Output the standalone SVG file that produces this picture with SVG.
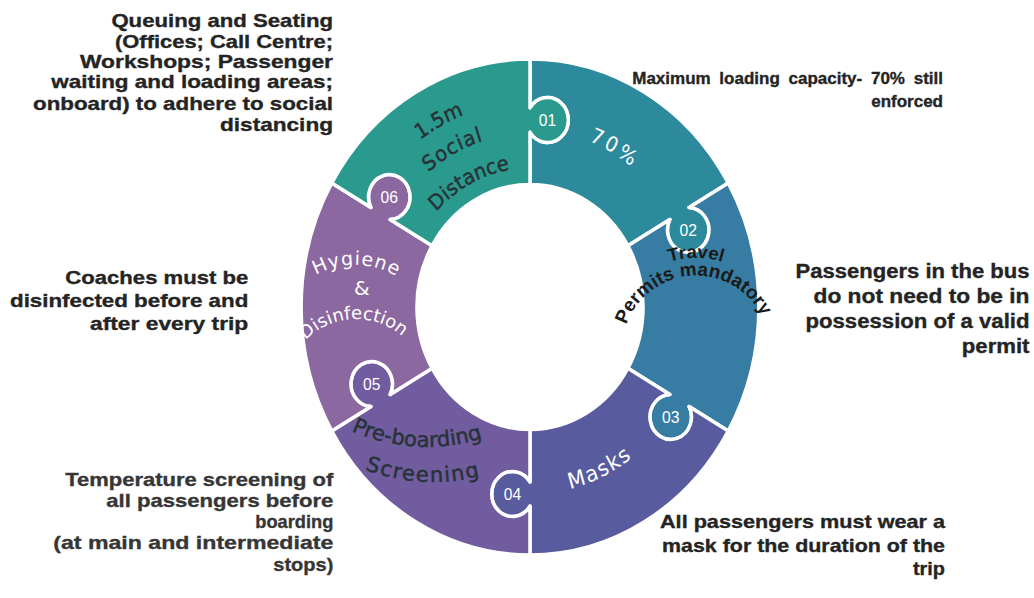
<svg xmlns="http://www.w3.org/2000/svg" width="1034" height="598" viewBox="0 0 1034 598">
  <style>
    .seg { stroke: #ffffff; stroke-width: 3.5; stroke-linejoin: round; }
    .num { font-family: "Liberation Sans", Arial, sans-serif; font-size: 17px; fill: #ffffff; text-anchor: middle; }
    .lw { font-family: "DejaVu Sans", Verdana, sans-serif; fill: #ffffff; }
    .ld { font-family: "DejaVu Sans", Verdana, sans-serif; fill: #263236; stroke: #263236; stroke-width: 0.45; }
    .lb { font-family: "Liberation Sans", Arial, sans-serif; font-weight: bold; fill: #1a1a1a; }
    .note { font-family: "Liberation Sans", Arial, sans-serif; font-weight: bold; fill: #242424; text-anchor: end; stroke: #242424; stroke-width: 0.35; }
  </style>
  <defs>
    <!-- ring-local arcs (used inside the scaled ring group) -->
    <path id="arc-sd1" d="M -200.5,-42.6 A 205 205 0 0 1 76.8,-190.1"/>
    <path id="arc-sd2" d="M -170.2,-36.2 A 174 174 0 0 1 65.2,-161.3"/>
    <path id="arc-sd3" d="M -136.0,-28.9 A 139 139 0 0 1 52.1,-128.9"/>
    <path id="arc-70" d="M -60.9,-167.3 A 178 178 0 0 1 175.3,-30.9"/>
    <path id="arc-mask" d="M -79.0,169.5 A 187 187 0 0 0 180.6,48.4"/>
    <!-- page-space arcs -->
    <path id="arc-pre" d="M 260.9,344.6 A 186 186 0 0 0 582.4,363.1"/>
    <path id="arc-scr" d="M 261.8,376.9 A 192 192 0 0 0 593.8,394.9"/>
    <path id="arc-hyg" d="M 274.5,331.2 A 82 82 0 0 1 436,334.3"/>
    <path id="arc-dis" d="M 285.7,380.4 A 71 71 0 0 1 425.4,375"/>
    <path id="arc-trv" d="M 616.3,304 A 92 92 0 0 1 775.7,304"/>
    <path id="arc-per" d="M 622.0,348.2 A 74 74 0 0 1 769.2,338.9"/>
  </defs>

  <rect width="1034" height="598" fill="#ffffff"/>

  <!-- puzzle ring: six interlocking segments -->
  <g id="ring" transform="translate(530,307) scale(0.923,1)">
    <g id="seg-capacity">
      <path class="seg" vector-effect="non-scaling-stroke" fill="#2c8a9c" d="M 0,-248 A 248 248 0 0 1 214.77,-124 L 172.38,-99.525 A 22.5 22.5 0 1 1 151.51,-87.475 L 106.09,-61.25 A 122.5 122.5 0 0 0 0,-122.5 L 0,-174.95 A 22.5 22.5 0 1 0 0,-199.05 Z"/>
    </g>
    <g id="seg-permits">
      <path class="seg" vector-effect="non-scaling-stroke" fill="#377da3" d="M 214.77,-124 A 248 248 0 0 1 214.77,124 L 172.38,99.525 A 22.5 22.5 0 1 1 151.51,87.475 L 106.09,61.25 A 122.5 122.5 0 0 0 106.09,-61.25 L 151.51,-87.475 A 22.5 22.5 0 1 0 172.38,-99.525 Z"/>
    </g>
    <g id="seg-masks">
      <path class="seg" vector-effect="non-scaling-stroke" fill="#585c9e" d="M 214.77,124 A 248 248 0 0 1 0,248 L 0,199.05 A 22.5 22.5 0 1 1 0,174.95 L 0,122.5 A 122.5 122.5 0 0 0 106.09,61.25 L 151.51,87.475 A 22.5 22.5 0 1 0 172.38,99.525 Z"/>
    </g>
    <g id="seg-screening">
      <path class="seg" vector-effect="non-scaling-stroke" fill="#705c9e" d="M 0,248 A 248 248 0 0 1 -214.77,124 L -172.38,99.525 A 22.5 22.5 0 1 1 -151.51,87.475 L -106.09,61.25 A 122.5 122.5 0 0 0 0,122.5 L 0,174.95 A 22.5 22.5 0 1 0 0,199.05 Z"/>
    </g>
    <g id="seg-hygiene">
      <path class="seg" vector-effect="non-scaling-stroke" fill="#8c68a0" d="M -214.77,124 A 248 248 0 0 1 -214.77,-124 L -172.38,-99.525 A 22.5 22.5 0 1 1 -151.51,-87.475 L -106.09,-61.25 A 122.5 122.5 0 0 0 -106.09,61.25 L -151.51,87.475 A 22.5 22.5 0 1 0 -172.38,99.525 Z"/>
    </g>
    <g id="seg-distance">
      <path class="seg" vector-effect="non-scaling-stroke" fill="#2b9a8e" d="M -214.77,-124 A 248 248 0 0 1 0,-248 L 0,-199.05 A 22.5 22.5 0 1 1 0,-174.95 L 0,-122.5 A 122.5 122.5 0 0 0 -106.09,-61.25 L -151.51,-87.475 A 22.5 22.5 0 1 0 -172.38,-99.525 Z"/>
    </g>

    <!-- tab numbers -->
    <text class="num" x="19" y="-181">01</text>
    <text class="num" x="171.44" y="-71">02</text>
    <text class="num" x="152.44" y="116">03</text>
    <text class="num" x="-19" y="193">04</text>
    <text class="num" x="-171.44" y="83">05</text>
    <text class="num" x="-152.44" y="-104">06</text>

    <!-- segment titles on concentric arcs -->
    <text class="ld" font-size="21"><textPath href="#arc-sd1" startOffset="50%" text-anchor="middle">1.5m</textPath></text>
    <text class="ld" font-size="21"><textPath href="#arc-sd2" startOffset="50%" text-anchor="middle" letter-spacing="1">Social</textPath></text>
    <text class="ld" font-size="21"><textPath href="#arc-sd3" startOffset="50%" text-anchor="middle">Distance</textPath></text>
    <text class="lw" font-size="21" letter-spacing="3"><textPath href="#arc-70" startOffset="50%" text-anchor="middle">70%</textPath></text>
    <text class="lw" font-size="22" letter-spacing="1.5"><textPath href="#arc-mask" startOffset="50%" text-anchor="middle">Masks</textPath></text>
  </g>

  <!-- segment titles on their own arcs -->
  <g id="ring-labels">
    <text class="ld" font-size="21"><textPath href="#arc-pre" startOffset="50%" text-anchor="middle">Pre-boarding</textPath></text>
    <text class="ld" font-size="21" letter-spacing="1.5"><textPath href="#arc-scr" startOffset="50%" text-anchor="middle">Screening</textPath></text>
    <text class="lw" font-size="19" letter-spacing="1"><textPath href="#arc-hyg" startOffset="50%" text-anchor="middle">Hygiene</textPath></text>
    <text class="lw" font-size="20" x="361.7" y="295" text-anchor="middle">&amp;</text>
    <text class="lw" font-size="18"><textPath href="#arc-dis" startOffset="50%" text-anchor="middle">Disinfection</textPath></text>
    <text class="lb" font-size="18"><textPath href="#arc-trv" startOffset="50%" text-anchor="middle" textLength="54" lengthAdjust="spacingAndGlyphs">Travel</textPath></text>
    <text class="lb" font-size="19"><textPath href="#arc-per" startOffset="50%" text-anchor="middle">Permits mandatory</textPath></text>
  </g>

  <!-- explanatory notes -->
  <g id="note-distance" class="note" font-size="18.5">
    <text x="333" y="27.3" textLength="221.6" lengthAdjust="spacingAndGlyphs">Queuing and Seating</text>
    <text x="333" y="48.3" textLength="218" lengthAdjust="spacingAndGlyphs">(Offices; Call Centre;</text>
    <text x="333" y="68.3" textLength="253" lengthAdjust="spacingAndGlyphs">Workshops; Passenger</text>
    <text x="333" y="88.3" textLength="281.7" lengthAdjust="spacingAndGlyphs">waiting and loading areas;</text>
    <text x="333" y="110" textLength="300" lengthAdjust="spacingAndGlyphs">onboard) to adhere to social</text>
    <text x="333" y="130.7" textLength="113" lengthAdjust="spacingAndGlyphs">distancing</text>
  </g>
  <g id="note-capacity" class="note" font-size="17">
    <text x="943" y="84" word-spacing="4">Maximum loading capacity- 70% still</text>
    <text x="943" y="106.7">enforced</text>
  </g>
  <g id="note-permits" class="note" font-size="20">
    <text x="1029.5" y="278.3" textLength="234" lengthAdjust="spacingAndGlyphs">Passengers in the bus</text>
    <text x="1029.5" y="303.3" textLength="216" lengthAdjust="spacingAndGlyphs">do not need to  be in</text>
    <text x="1029.5" y="328.3" textLength="224" lengthAdjust="spacingAndGlyphs">possession of a valid</text>
    <text x="1029.5" y="353.3" textLength="67.7" lengthAdjust="spacingAndGlyphs">permit</text>
  </g>
  <g id="note-hygiene" class="note" font-size="18.5">
    <text x="248.3" y="284" textLength="183" lengthAdjust="spacingAndGlyphs">Coaches must be</text>
    <text x="248.3" y="306.7" textLength="238.3" lengthAdjust="spacingAndGlyphs">disinfected before and</text>
    <text x="248.3" y="330" textLength="158.3" lengthAdjust="spacingAndGlyphs">after every trip</text>
  </g>
  <g id="note-screening" class="note" font-size="18.5" style="fill:#363636;stroke:#363636">
    <text x="333.3" y="486" textLength="268" lengthAdjust="spacingAndGlyphs">Temperature screening of</text>
    <text x="333.3" y="507.3" textLength="227" lengthAdjust="spacingAndGlyphs">all passengers before</text>
    <text x="333.3" y="528.3" textLength="78" lengthAdjust="spacingAndGlyphs">boarding</text>
    <text x="333.3" y="549.3" textLength="280" lengthAdjust="spacingAndGlyphs">(at main and intermediate</text>
    <text x="333.3" y="570.7" textLength="60" lengthAdjust="spacingAndGlyphs">stops)</text>
  </g>
  <g id="note-masks" class="note" font-size="19">
    <text x="945" y="528.3" textLength="285" lengthAdjust="spacingAndGlyphs">All passengers must wear a</text>
    <text x="945" y="551.7" textLength="283" lengthAdjust="spacingAndGlyphs">mask for the duration of the</text>
    <text x="945" y="575" textLength="32" lengthAdjust="spacingAndGlyphs">trip</text>
  </g>
</svg>
